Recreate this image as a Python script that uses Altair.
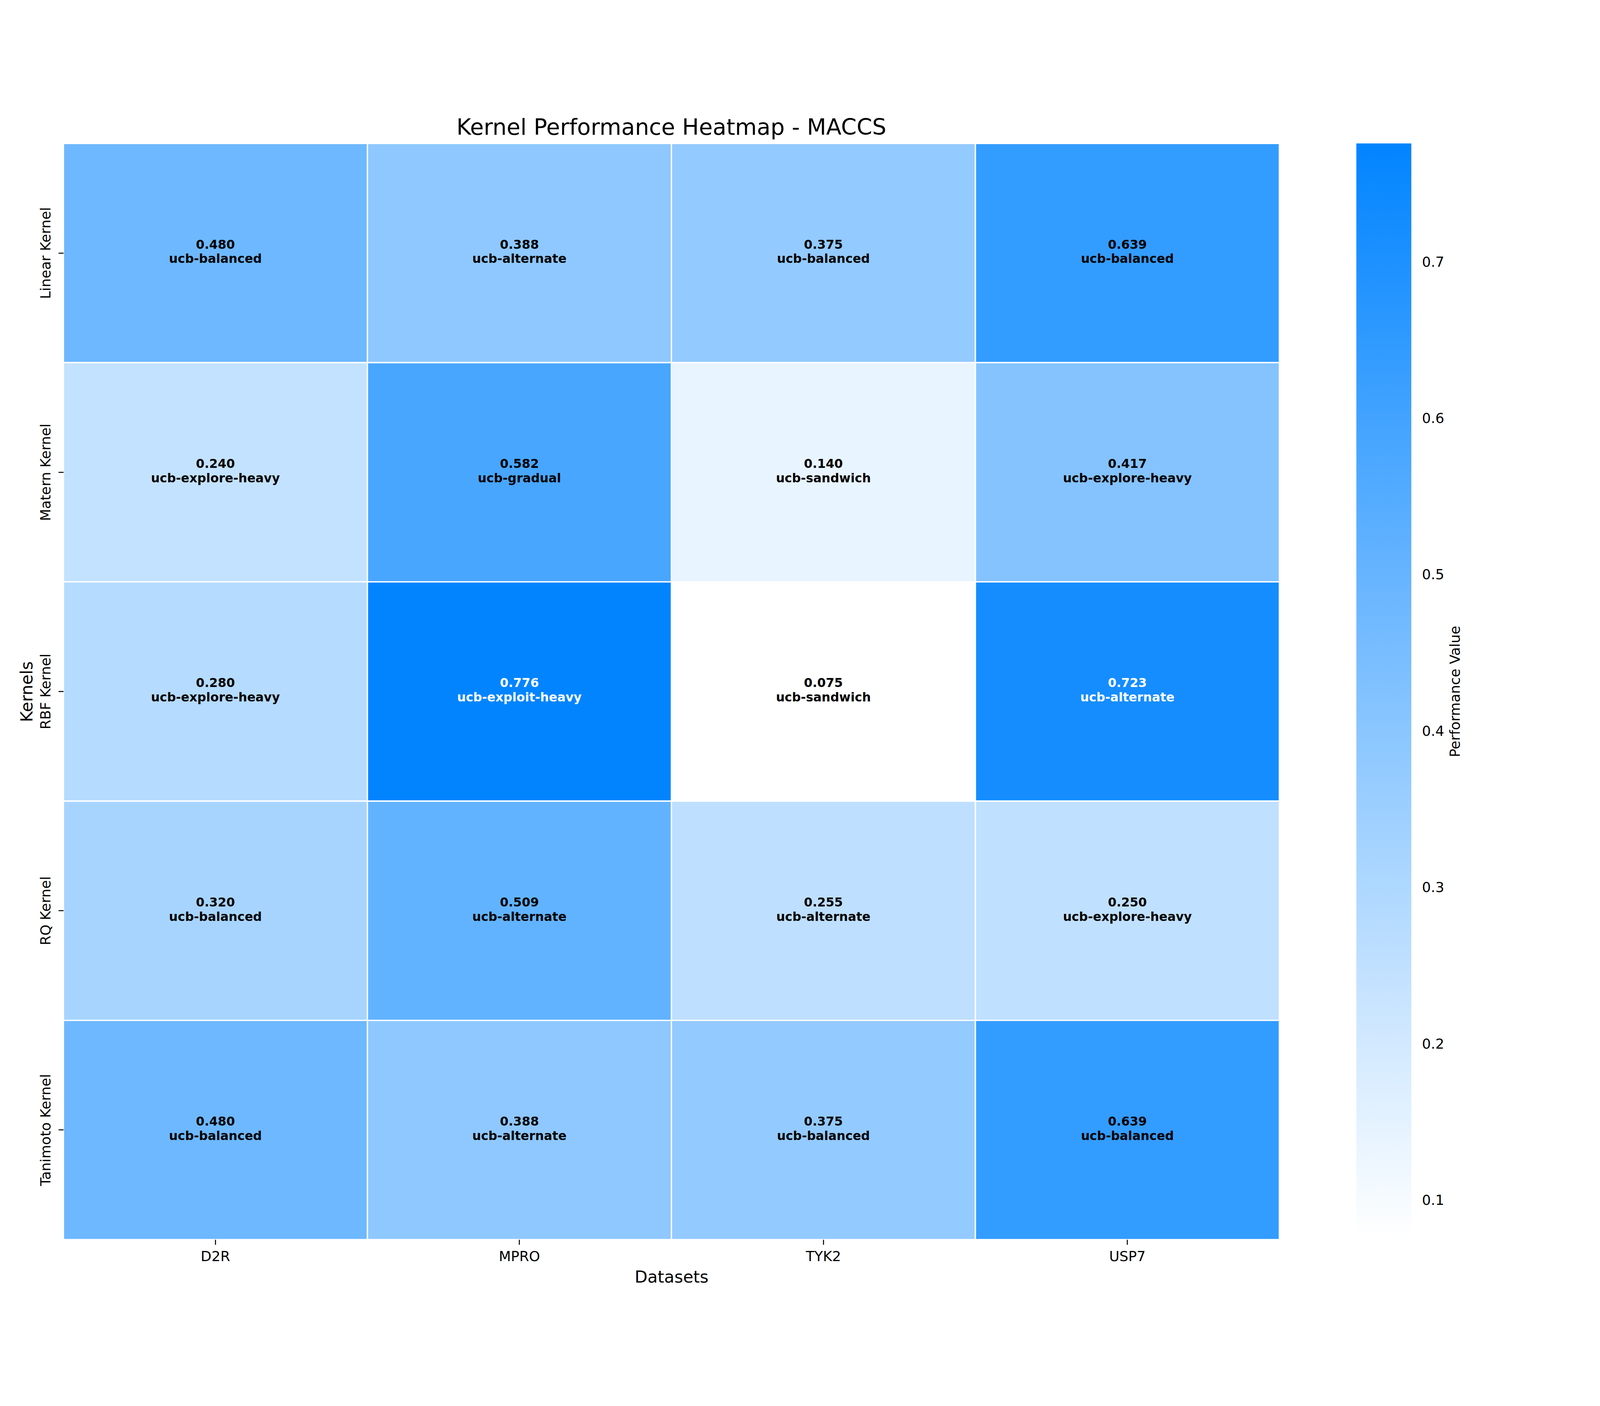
import altair as alt
import pandas as pd

kernels = ["Linear Kernel", "Matern Kernel", "RBF Kernel", "RQ Kernel", "Tanimoto Kernel"]
datasets = ["D2R", "MPRO", "TYK2", "USP7"]

linear_vals = [0.480, 0.388, 0.375, 0.639]
matern_vals = [0.240, 0.582, 0.140, 0.417]
rbf_vals = [0.280, 0.776, 0.075, 0.723]
rq_vals = [0.320, 0.509, 0.255, 0.250]
tanimoto_vals = [0.480, 0.388, 0.375, 0.639]

linear_strat = ["ucb-balanced", "ucb-alternate", "ucb-balanced", "ucb-balanced"]
matern_strat = ["ucb-explore-heavy", "ucb-gradual", "ucb-sandwich", "ucb-explore-heavy"]
rbf_strat = ["ucb-explore-heavy", "ucb-exploit-heavy", "ucb-sandwich", "ucb-alternate"]
rq_strat = ["ucb-balanced", "ucb-alternate", "ucb-alternate", "ucb-explore-heavy"]
tanimoto_strat = ["ucb-balanced", "ucb-alternate", "ucb-balanced", "ucb-balanced"]

colorbar_ticks = [0.1, 0.2, 0.3, 0.4, 0.5, 0.6, 0.7]

all_vals = [linear_vals, matern_vals, rbf_vals, rq_vals, tanimoto_vals]
all_strat = [linear_strat, matern_strat, rbf_strat, rq_strat, tanimoto_strat]

rows = []
for k, vals, strats in zip(kernels, all_vals, all_strat):
    for d, v, s in zip(datasets, vals, strats):
        rows.append({"kernel": k, "dataset": d, "value": v,
                     "vtxt": f"{v:.3f}", "strategy": s})
df = pd.DataFrame(rows)

vmin = min(min(r) for r in all_vals)
vmax = max(max(r) for r in all_vals)

FONT = "DejaVu Sans"
W = 3650
H = 3291

x_enc = alt.X("dataset:N", sort=datasets, title="Datasets",
              scale=alt.Scale(paddingInner=0, paddingOuter=0),
              axis=alt.Axis(labelAngle=0, labelFontSize=42, labelFont=FONT,
                            labelColor="black", labelBaseline="alphabetic",
                            labelPadding=49, tickSize=15, tickWidth=3,
                            tickColor="black", domain=False, grid=False,
                            labelLimit=1000,
                            titleFontSize=50, titleFont=FONT, titleFontWeight="normal",
                            titleColor="black", titlePadding=56,
                            titleBaseline="alphabetic"))
y_enc = alt.Y("kernel:N", sort=kernels, title="Kernels",
              scale=alt.Scale(paddingInner=0, paddingOuter=0),
              axis=alt.Axis(labelAngle=270, labelAlign="center",
                            labelBaseline="alphabetic", labelFontSize=42,
                            labelFont=FONT, labelColor="black", labelPadding=25,
                            labelLimit=1000,
                            tickSize=15, tickWidth=3, tickColor="black",
                            domain=False, grid=False,
                            titleFontSize=50, titleFont=FONT, titleFontWeight="normal",
                            titleColor="black", titlePadding=20,
                            titleBaseline="alphabetic"))

base = alt.Chart(df)

heat = base.mark_rect(stroke="white", strokeWidth=4).encode(
    x=x_enc,
    y=y_enc,
    color=alt.Color("value:Q",
                    scale=alt.Scale(domain=[vmin, vmax],
                                    range=["#ffffff", "#0284ff"],
                                    interpolate="rgb"),
                    legend=alt.Legend(orient="none", legendX=3881, legendY=0,
                                      direction="vertical", title=None,
                                      gradientLength=H, gradientThickness=165,
                                      gradientStrokeWidth=0, padding=0,
                                      values=colorbar_ticks, format=".1f",
                                      labelFontSize=42, labelFont=FONT,
                                      labelColor="black", labelOffset=32,
                                      labelOverlap=False)),
)

txt_color = alt.condition(alt.datum.value > 0.68, alt.value("white"), alt.value("black"))

num_text = base.mark_text(font=FONT, fontSize=37, fontWeight="bold",
                          baseline="alphabetic", align="center", dy=-13).encode(
    x=alt.X("dataset:N", sort=datasets),
    y=alt.Y("kernel:N", sort=kernels),
    text="vtxt:N",
    color=txt_color,
)

strat_text = base.mark_text(font=FONT, fontSize=37, fontWeight="bold",
                            baseline="alphabetic", align="center", dy=30).encode(
    x=alt.X("dataset:N", sort=datasets),
    y=alt.Y("kernel:N", sort=kernels),
    text="strategy:N",
    color=txt_color,
)

cb_label = alt.Chart(pd.DataFrame({"t": ["Performance Value"]})).mark_text(
    font=FONT, fontSize=42, angle=270, baseline="alphabetic", align="center",
    color="black").encode(
    text="t:N",
    x=alt.value(4380 - 189),
    y=alt.value(H / 2),
)

title_txt = alt.Chart(pd.DataFrame({"t": ["Kernel Performance Heatmap - MACCS"]})).mark_text(
    font=FONT, fontSize=67, baseline="alphabetic", align="center",
    color="black").encode(
    text="t:N",
    x=alt.value(W / 2),
    y=alt.value(-26),
)

chart = alt.layer(heat, num_text, strat_text, cb_label, title_txt).properties(
    width=W,
    height=H,
    autosize=alt.AutoSizeParams(type="none"),
    padding={"left": 181, "top": 112, "right": 953, "bottom": 181},
).configure_view(stroke=None).configure(background="white")

chart.save("out.html", embed_options={"renderer": "svg", "actions": False})
